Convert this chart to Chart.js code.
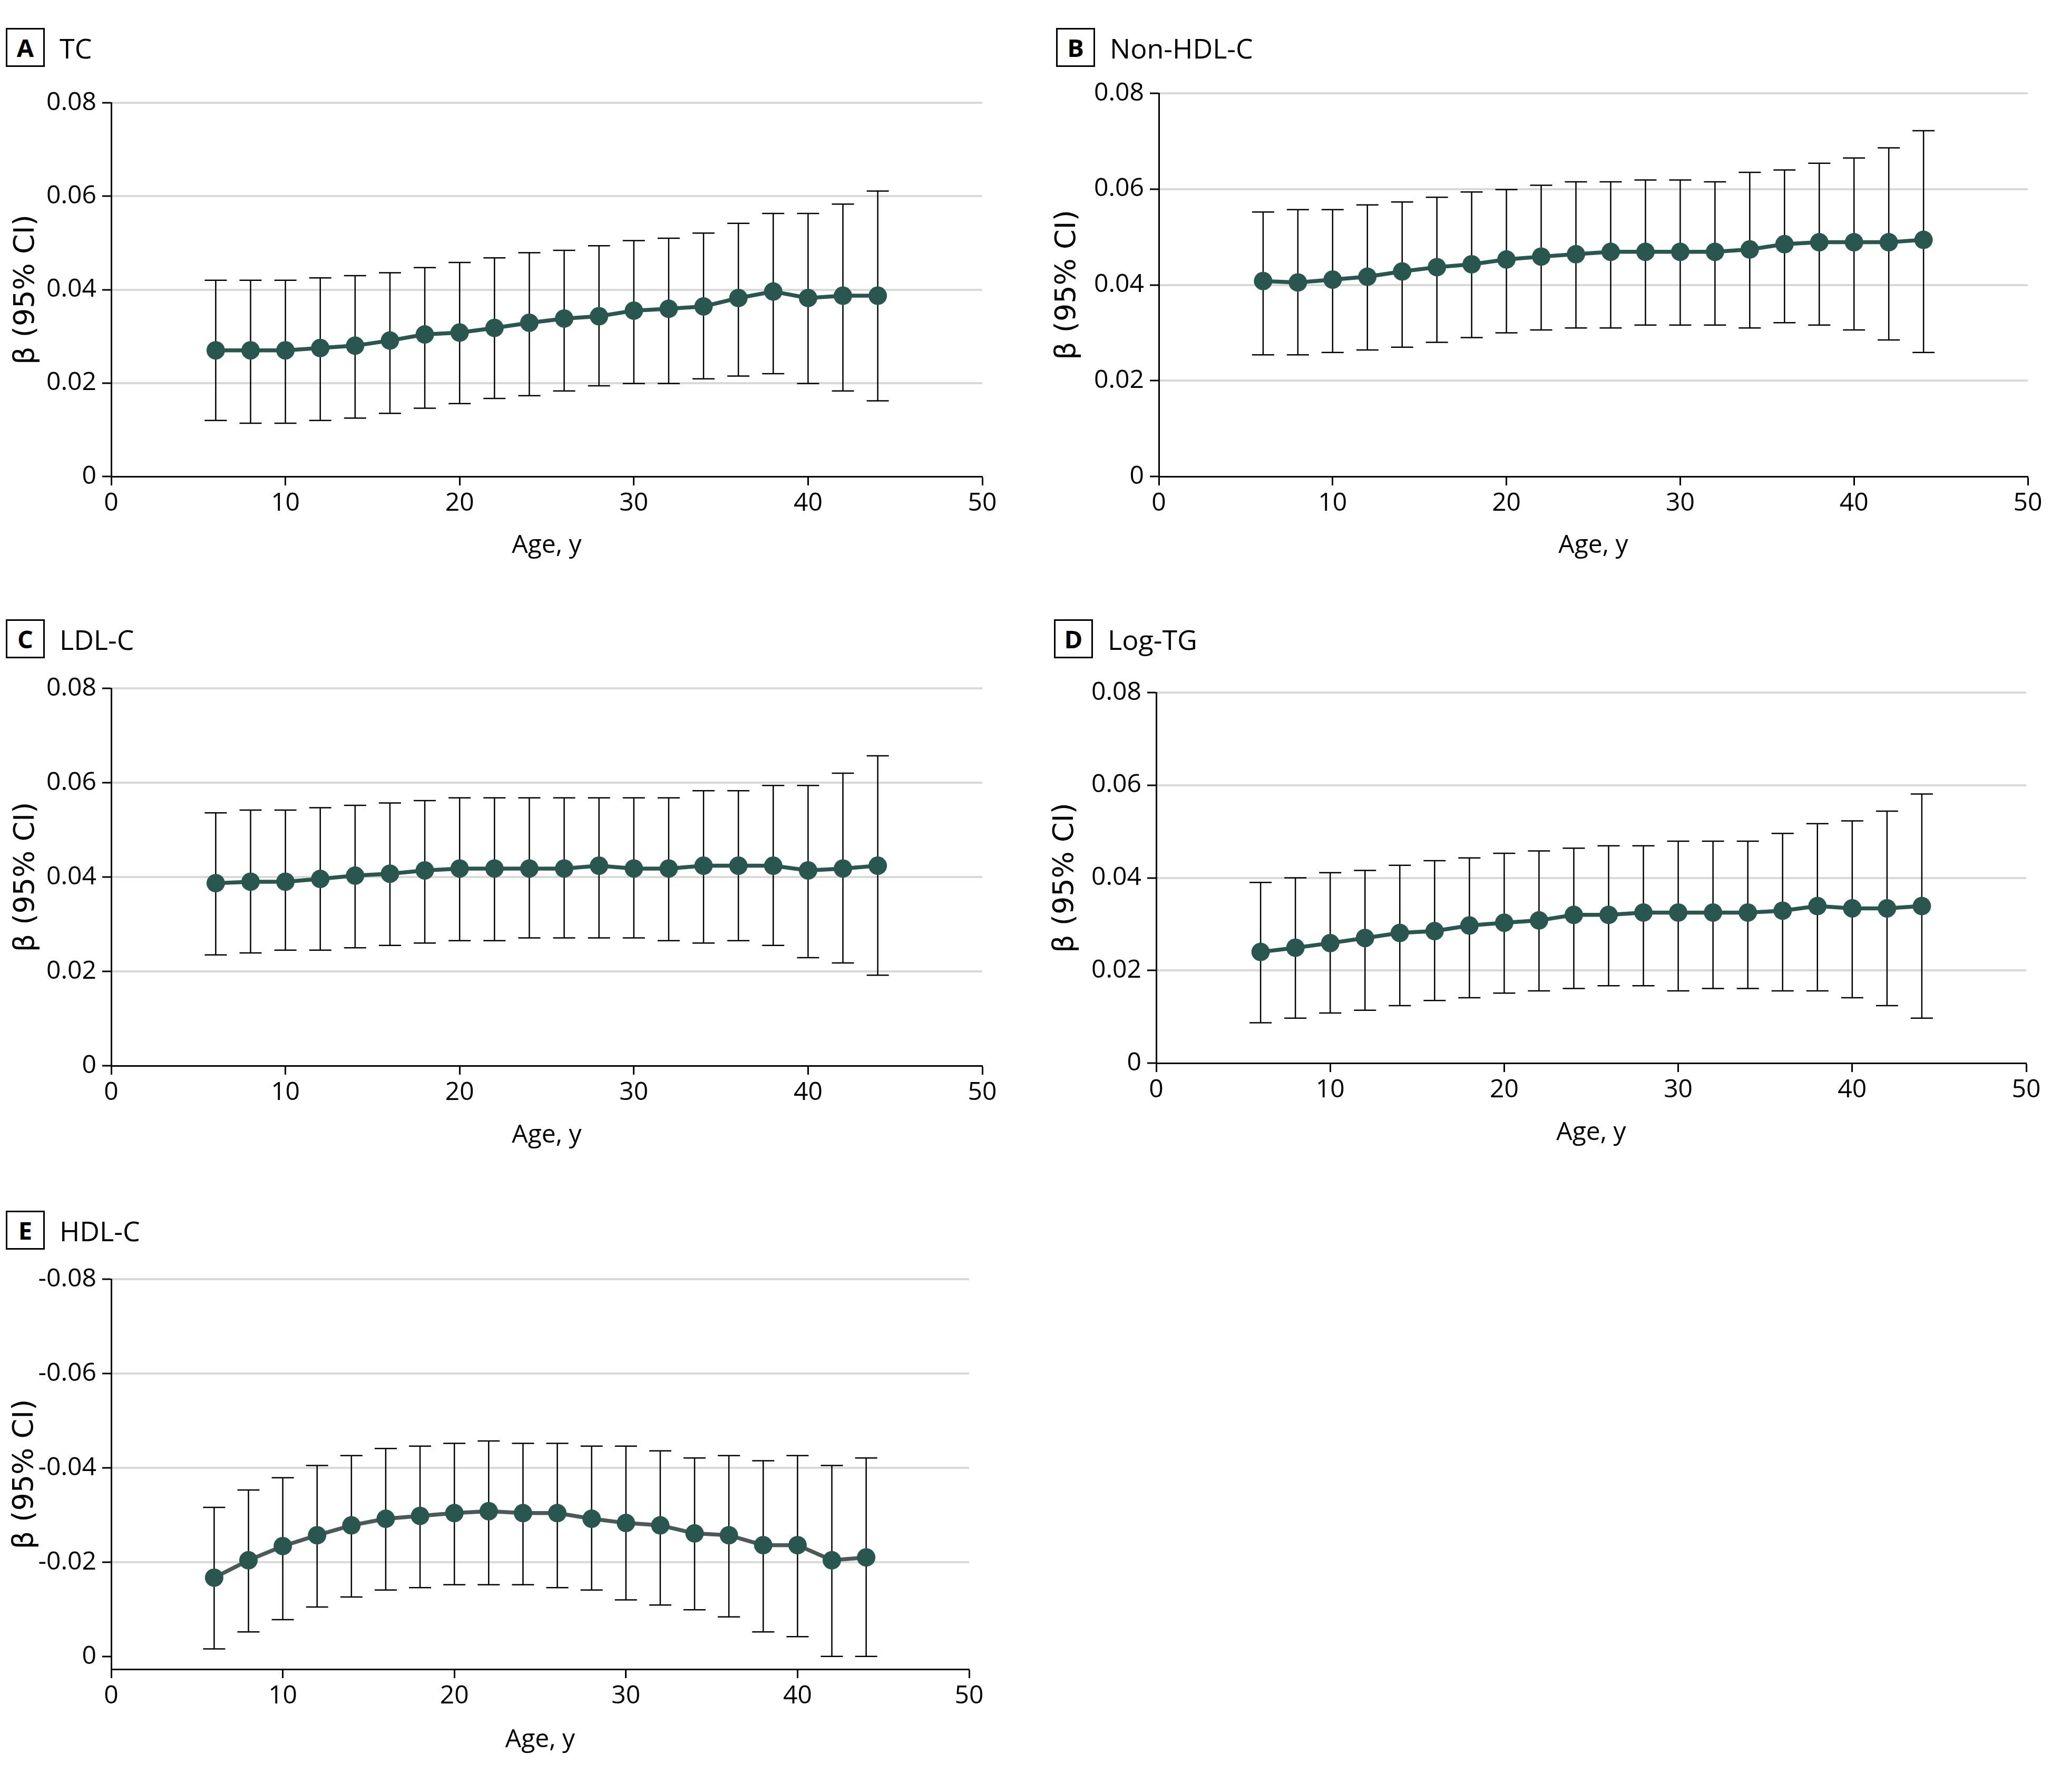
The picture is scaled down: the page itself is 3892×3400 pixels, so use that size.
<!DOCTYPE html>
<html>
<head>
<meta charset="utf-8">
<script src="https://cdn.jsdelivr.net/npm/chart.js@4.4.1/dist/chart.umd.min.js"></script>
<style>
  body { margin: 0; background: #fff; }
  #page { position: relative; width: 3892px; height: 3400px; background: #fff; }
  canvas { position: absolute; }
  .lbl { position: absolute; display: flex; align-items: center; font-family: 'Open Sans', sans-serif; color: #000; }
  .lbl .box { box-sizing: border-box; width: 74px; height: 74px; border: 3px solid #000; font-weight: bold; font-size: 47px; display: flex; align-items: center; justify-content: center; }
  .lbl .ttl { margin-left: 28px; font-size: 52px; }
</style>
</head>
<body>
<div id="page">
  <div class="lbl" style="left:11px;top:53px"><span class="box">A</span><span class="ttl">TC</span></div>
  <div class="lbl" style="left:2004px;top:53px"><span class="box">B</span><span class="ttl">Non-HDL-C</span></div>
  <div class="lbl" style="left:11px;top:1175px"><span class="box">C</span><span class="ttl">LDL-C</span></div>
  <div class="lbl" style="left:2000px;top:1175px"><span class="box">D</span><span class="ttl">Log-TG</span></div>
  <div class="lbl" style="left:11px;top:2297px"><span class="box">E</span><span class="ttl">HDL-C</span></div>
  <canvas id="chartA" width="1946" height="1110" style="left:0;top:0"></canvas>
  <canvas id="chartB" width="1946" height="1110" style="left:1946px;top:0"></canvas>
  <canvas id="chartC" width="1946" height="1110" style="left:0;top:1130px"></canvas>
  <canvas id="chartD" width="1946" height="1110" style="left:1946px;top:1130px"></canvas>
  <canvas id="chartE" width="1946" height="1150" style="left:0;top:2250px"></canvas>
</div>
<script>
var ages = [6, 8, 10, 12, 14, 16, 18, 20, 22, 24, 26, 28, 30, 32, 34, 36, 38, 40, 42, 44];
var xTicks = [0, 10, 20, 30, 40, 50];
var posTicks = [0, 0.02, 0.04, 0.06, 0.08];
var hdlTicks = [-0.08, -0.06, -0.04, -0.02, 0];

// A  TC
var tcBeta  = [0.0270, 0.0270, 0.0270, 0.0275, 0.0280, 0.0291, 0.0304, 0.0308, 0.0318, 0.0329, 0.0338, 0.0343, 0.0355, 0.0359, 0.0364, 0.0382, 0.0396, 0.0382, 0.0387, 0.0387];
var tcLower = [0.0120, 0.0114, 0.0114, 0.0120, 0.0125, 0.0135, 0.0146, 0.0156, 0.0167, 0.0173, 0.0183, 0.0194, 0.0199, 0.0199, 0.0209, 0.0215, 0.0220, 0.0199, 0.0183, 0.0162];
var tcUpper = [0.0420, 0.0420, 0.0420, 0.0425, 0.0430, 0.0436, 0.0447, 0.0458, 0.0468, 0.0479, 0.0484, 0.0494, 0.0505, 0.0510, 0.0521, 0.0542, 0.0563, 0.0563, 0.0583, 0.0611];

// B  Non-HDL-C
var nonHdlBeta  = [0.0408, 0.0405, 0.0411, 0.0417, 0.0428, 0.0437, 0.0443, 0.0453, 0.0459, 0.0464, 0.0469, 0.0469, 0.0469, 0.0469, 0.0474, 0.0485, 0.0489, 0.0489, 0.0489, 0.0494];
var nonHdlLower = [0.0254, 0.0254, 0.0259, 0.0264, 0.0270, 0.0280, 0.0290, 0.0300, 0.0306, 0.0310, 0.0310, 0.0316, 0.0316, 0.0316, 0.0310, 0.0321, 0.0316, 0.0306, 0.0285, 0.0259];
var nonHdlUpper = [0.0552, 0.0557, 0.0557, 0.0567, 0.0573, 0.0583, 0.0594, 0.0599, 0.0608, 0.0615, 0.0615, 0.0619, 0.0619, 0.0615, 0.0635, 0.0640, 0.0654, 0.0665, 0.0686, 0.0722];

// C  LDL-C
var ldlBeta  = [0.0387, 0.0390, 0.0390, 0.0396, 0.0403, 0.0407, 0.0414, 0.0418, 0.0418, 0.0418, 0.0418, 0.0424, 0.0418, 0.0418, 0.0424, 0.0424, 0.0424, 0.0414, 0.0418, 0.0424];
var ldlLower = [0.0235, 0.0239, 0.0245, 0.0245, 0.0250, 0.0255, 0.0260, 0.0265, 0.0265, 0.0271, 0.0271, 0.0271, 0.0271, 0.0265, 0.0260, 0.0265, 0.0255, 0.0229, 0.0218, 0.0192];
var ldlUpper = [0.0536, 0.0542, 0.0542, 0.0547, 0.0552, 0.0557, 0.0562, 0.0568, 0.0568, 0.0568, 0.0568, 0.0568, 0.0568, 0.0568, 0.0583, 0.0583, 0.0594, 0.0594, 0.0620, 0.0657];

// D  Log-TG
var tgBeta  = [0.0240, 0.0249, 0.0259, 0.0270, 0.0281, 0.0285, 0.0297, 0.0303, 0.0308, 0.0320, 0.0320, 0.0325, 0.0325, 0.0325, 0.0325, 0.0329, 0.0339, 0.0334, 0.0334, 0.0339];
var tgLower = [0.0087, 0.0097, 0.0108, 0.0114, 0.0124, 0.0135, 0.0141, 0.0151, 0.0156, 0.0161, 0.0167, 0.0167, 0.0156, 0.0161, 0.0161, 0.0156, 0.0156, 0.0141, 0.0124, 0.0097];
var tgUpper = [0.0390, 0.0400, 0.0411, 0.0416, 0.0427, 0.0437, 0.0443, 0.0453, 0.0458, 0.0464, 0.0469, 0.0469, 0.0479, 0.0479, 0.0479, 0.0496, 0.0517, 0.0523, 0.0544, 0.0581];

// E  HDL-C
var hdlBeta  = [-0.0167, -0.0204, -0.0234, -0.0257, -0.0278, -0.0292, -0.0298, -0.0304, -0.0308, -0.0304, -0.0304, -0.0292, -0.0283, -0.0278, -0.0261, -0.0257, -0.0236, -0.0236, -0.0204, -0.0210];
var hdlLower = [-0.0016, -0.0052, -0.0078, -0.0105, -0.0126, -0.0141, -0.0146, -0.0152, -0.0152, -0.0152, -0.0146, -0.0141, -0.0120, -0.0109, -0.0099, -0.0084, -0.0052, -0.0042, 0.0000, 0.0000];
var hdlUpper = [-0.0316, -0.0353, -0.0379, -0.0405, -0.0426, -0.0441, -0.0446, -0.0452, -0.0457, -0.0452, -0.0452, -0.0446, -0.0446, -0.0436, -0.0421, -0.0426, -0.0415, -0.0426, -0.0405, -0.0421];

var teal = '#2a5650';
var textFont = "'Open Sans', 'Noto Sans', sans-serif";
var yTitleSize = 54;

// draws the 95% CI whiskers through the chart's own scales
var errorBars = {
  id: 'errorBars',
  beforeDatasetsDraw: function (chart, args, opts) {
    var ctx = chart.ctx;
    var x = chart.scales.x, y = chart.scales.y;
    ctx.save();
    ctx.strokeStyle = '#000';
    ctx.lineWidth = 2.5;
    for (var i = 0; i < opts.lower.length; i++) {
      var px = x.getPixelForValue(ages[i]);
      var y1 = y.getPixelForValue(opts.lower[i]);
      var y2 = y.getPixelForValue(opts.upper[i]);
      ctx.beginPath();
      ctx.moveTo(px, y1); ctx.lineTo(px, y2);
      ctx.moveTo(px - 21, y1); ctx.lineTo(px + 21, y1);
      ctx.moveTo(px - 21, y2); ctx.lineTo(px + 21, y2);
      ctx.stroke();
    }
    ctx.restore();
  }
};

function makePanel(id, p) {
  var canvas = document.getElementById(id);
  var W = canvas.width, H = canvas.height;
  var lh = 48 * 1.2;
  return new Chart(canvas, {
    type: 'line',
    data: {
      datasets: [{
        data: ages.map(function (a, i) { return { x: a, y: p.beta[i] }; }),
        borderColor: p.lineColor || teal,
        borderWidth: 7.5,
        pointRadius: 17.5,
        pointBackgroundColor: teal,
        pointBorderWidth: 0,
        tension: 0
      }]
    },
    options: {
      responsive: false,
      devicePixelRatio: 1,
      animation: false,
      layout: { padding: { left: 0, top: p.top, right: W - p.right, bottom: 0 } },
      plugins: {
        legend: { display: false },
        tooltip: { enabled: false },
        errorBars: { lower: p.lower, upper: p.upper }
      },
      scales: {
        x: {
          type: 'linear',
          min: 0, max: 50,
          afterBuildTicks: function (s) { s.ticks = xTicks.map(function (v) { return { value: v }; }); },
          afterFit: function (s) { s.height = H - p.bottom; },
          grid: { drawOnChartArea: false, tickLength: 17, tickColor: '#000', tickWidth: 3 },
          border: { color: '#000', width: 3 },
          ticks: { color: '#000', font: { family: textFont, size: 48 }, padding: 6, maxRotation: 0 },
          title: { display: true, text: 'Age, y', color: '#000', font: { family: textFont, size: 48 },
                   padding: { top: 0, bottom: H - p.ageY - lh / 2 } }
        },
        y: {
          type: 'linear',
          min: p.min, max: p.max,
          reverse: !!p.reverse,
          afterBuildTicks: function (s) { s.ticks = p.ticks.map(function (v) { return { value: v }; }); },
          afterFit: function (s) { s.width = p.left; },
          grid: {
            color: function (c) { return c.tick && c.tick.value === 0 ? 'rgba(0,0,0,0)' : '#d9d9d9'; },
            lineWidth: 4, tickLength: 17, tickColor: '#000', tickWidth: 3
          },
          border: { color: '#000', width: 3 },
          ticks: {
            color: '#000', font: { family: textFont, size: 48 }, padding: 11,
            callback: function (v) { return v === 0 ? '0' : v.toFixed(2); }
          },
          title: { display: true, text: 'β (95% CI)', color: '#000',
                   font: { family: "'DejaVu Sans', Verdana, sans-serif", size: yTitleSize, lineHeight: 1 },
                   padding: { top: p.titleX - yTitleSize / 2, bottom: 0 } }
        }
      }
    },
    plugins: [errorBars]
  });
}

makePanel('chartA', { beta: tcBeta, lower: tcLower, upper: tcUpper, min: 0, max: 0.08, ticks: posTicks,
  left: 211, right: 1864, top: 195, bottom: 904, ageY: 1035, titleX: 50 });
makePanel('chartB', { beta: nonHdlBeta, lower: nonHdlLower, upper: nonHdlUpper, min: 0, max: 0.08, ticks: posTicks,
  left: 253, right: 1902, top: 177, bottom: 904, ageY: 1035, titleX: 80 });
makePanel('chartC', { beta: ldlBeta, lower: ldlLower, upper: ldlUpper, min: 0, max: 0.08, ticks: posTicks,
  left: 211, right: 1864, top: 176, bottom: 892, ageY: 1024, titleX: 50 });
makePanel('chartD', { beta: tgBeta, lower: tgLower, upper: tgUpper, min: 0, max: 0.08, ticks: posTicks,
  left: 248, right: 1899, top: 184, bottom: 887, ageY: 1019, titleX: 76 });
makePanel('chartE', { beta: hdlBeta, lower: hdlLower, upper: hdlUpper, min: -0.08, max: 0.0027, reverse: true, ticks: hdlTicks,
  left: 211, right: 1839, top: 177, bottom: 917, ageY: 1051, titleX: 48, lineColor: '#4b5a58' });
</script>
</body>
</html>
